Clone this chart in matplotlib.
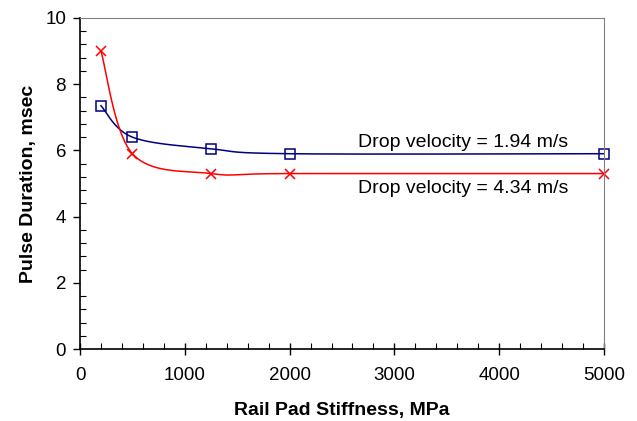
import matplotlib
matplotlib.use("Agg")
import matplotlib.pyplot as plt
from matplotlib.ticker import MultipleLocator
import numpy as np

stiffness = [200, 500, 1250, 2000, 5000]
duration_194 = [7.35, 6.4, 6.05, 5.9, 5.9]
duration_434 = [9.0, 5.9, 5.3, 5.3, 5.3]

plt.rcParams["font.family"] = ["Liberation Sans", "DejaVu Sans"]


def smooth(x, y, sx=524 / 5000, sy=331 / 10, n=40):
    # Excel-like bezier smoothing, done in pixel space
    p = np.column_stack([np.asarray(x) * sx, np.asarray(y) * sy])
    p = np.vstack([p[0], p, p[-1]])
    out = []
    for i in range(1, len(p) - 2):
        p0, p1, p2, p3 = p[i - 1], p[i], p[i + 1], p[i + 2]
        c1 = p1 + (p2 - p0) / 6
        c2 = p2 - (p3 - p1) / 6
        t = np.linspace(0, 1, n)[:, None]
        seg = (1 - t) ** 3 * p1 + 3 * (1 - t) ** 2 * t * c1 + 3 * (1 - t) * t ** 2 * c2 + t ** 3 * p2
        out.append(seg)
    out = np.vstack(out)
    return out[:, 0] / sx, out[:, 1] / sy


fig = plt.figure(figsize=(6.37, 4.21), dpi=100)
ax = fig.add_axes([80 / 637, 72 / 421, 524 / 637, 331 / 421])

bx, by = smooth(stiffness, duration_194)
ax.plot(bx, by, color="#000080", lw=1.1)
ax.plot(stiffness, duration_194, ls="none", marker="s", ms=6.5, mfc="none",
        mec="#000080", mew=1.1, clip_on=False)

rx, ry = smooth(stiffness, duration_434)
ax.plot(rx, ry, color="red", lw=1.1)
ax.plot(stiffness, duration_434, ls="none", marker="x", ms=7.5, color="red",
        mew=1.1, clip_on=False)

ax.text(3655, 6.25, "Drop velocity = 1.94 m/s", fontsize=14, ha="center", va="center")
ax.text(3655, 4.86, "Drop velocity = 4.34 m/s", fontsize=14, ha="center", va="center")

ax.set_xlim(0, 5000)
ax.set_ylim(0, 10)
ax.xaxis.set_major_locator(MultipleLocator(1000))
ax.xaxis.set_minor_locator(MultipleLocator(200))
ax.yaxis.set_major_locator(MultipleLocator(2))
ax.yaxis.set_minor_locator(MultipleLocator(0.4))
ax.tick_params(axis="x", which="major", direction="inout", length=8, width=1, labelsize=13.5, pad=9)
ax.tick_params(axis="x", which="minor", direction="in", length=4, width=0.8)
ax.tick_params(axis="y", which="major", direction="out", length=5, width=1, labelsize=13.5, pad=5)
ax.tick_params(axis="y", which="minor", direction="in", length=4, width=0.8)

for side in ["top", "right"]:
    ax.spines[side].set_color("#808080")
for side in ["left", "bottom"]:
    ax.spines[side].set_linewidth(1.2)

ax.set_xlabel("Rail Pad Stiffness, MPa", fontsize=14, fontweight="bold", labelpad=13)
ax.set_ylabel("Pulse Duration, msec", fontsize=14, fontweight="bold", labelpad=6)

fig.savefig("out.png", dpi=100)
